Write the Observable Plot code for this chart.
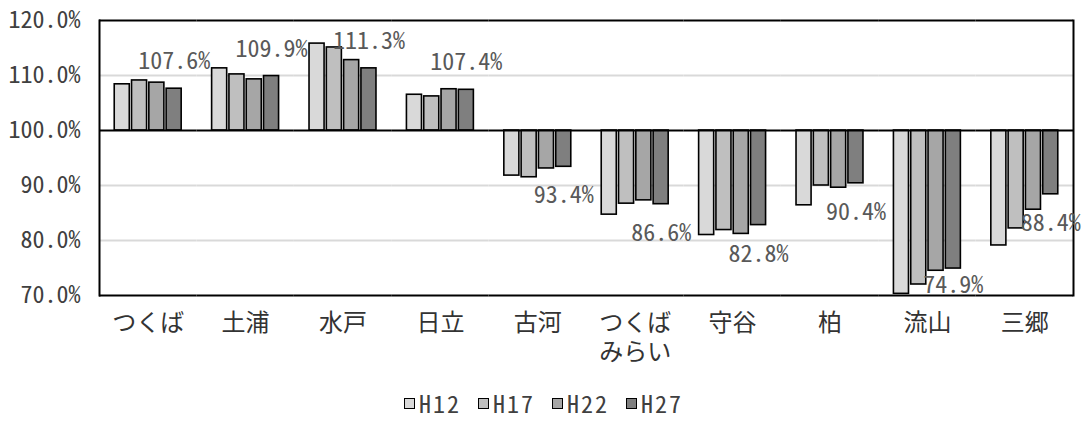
<!DOCTYPE html>
<html>
<head>
<meta charset="utf-8">
<script src="https://cdn.jsdelivr.net/npm/d3@7"></script>
<script src="https://cdn.jsdelivr.net/npm/@observablehq/plot@0.6"></script>
<style>
  body { margin: 0; background: #fff; position: relative; width: 1087px; height: 421px; overflow: hidden; }
  #chart svg { display: block; }
  .legend { position: absolute; left: 0; top: 386px; width: 1087px; height: 34px; line-height: 34px;
    display: flex; justify-content: center; align-items: center; gap: 17px;
    font-family: "Noto Sans Mono CJK JP", "Noto Sans CJK JP", sans-serif; font-size: 24px; letter-spacing: 2px; color: #404040; }
  .legend .item { display: flex; align-items: center; }
  .legend .sw { flex: none; box-sizing: border-box; width: 11px; height: 11px; border: 1.5px solid #000; margin-right: 4px; }
</style>
</head>
<body>
<div id="chart"></div>
<div class="legend" id="legend"></div>
<script>
const categories = ["つくば", "土浦", "水戸", "日立", "古河", "つくば\nみらい", "守谷", "柏", "流山", "三郷"];
const years = ["H12", "H17", "H22", "H27"];
const h12 = [108.4, 111.3, 115.8, 106.5, 91.8, 84.7, 81.0, 86.4, 70.3, 79.1];
const h17 = [109.1, 110.2, 115.1, 106.2, 91.5, 86.7, 81.9, 90.0, 72.0, 82.2];
const h22 = [108.7, 109.3, 112.8, 107.5, 93.1, 87.3, 81.2, 89.6, 74.5, 85.6];
const h27 = [107.6, 109.9, 111.3, 107.4, 93.4, 86.6, 82.8, 90.4, 74.9, 88.4];
const yTicks = [70, 80, 90, 100, 110, 120];
const colors = ["#d9d9d9", "#bfbfbf", "#a6a6a6", "#7f7f7f"];

const series = [h12, h17, h22, h27];
const data = [];
categories.forEach((c, i) => years.forEach((y, j) => data.push({cat: c, year: y, v: series[j][i]})));
const labels = data.filter(d => d.year === "H27");

const font = '"Noto Sans Mono CJK JP", "Noto Sans CJK JP", sans-serif';

const chart = Plot.plot({
  width: 1087,
  height: 386,
  marginTop: 20,
  marginBottom: 91,
  marginLeft: 99,
  marginRight: 14,
  style: {fontFamily: font, fontSize: "24px", background: "#fff"},
  fx: {domain: categories, padding: 0, round: false, label: null},
  x: {domain: years, paddingInner: 0.13, paddingOuter: 0.88, round: false, axis: null},
  y: {domain: [70, 120], label: null},
  color: {domain: years, range: colors},
  marks: [
    Plot.ruleY([80, 90, 110], {stroke: "#d9d9d9", strokeWidth: 2}),
    Plot.ruleY([120], {stroke: "#000", strokeWidth: 2}),
    Plot.ruleY([70], {stroke: "#000", strokeWidth: 2}),
    Plot.frame({anchor: "left", facetAnchor: "left", stroke: "#000", strokeWidth: 2}),
    Plot.frame({anchor: "right", facetAnchor: "right", stroke: "#000", strokeWidth: 2}),
    Plot.barY(data, {fx: "cat", x: "year", y1: 100, y2: "v", fill: "year", stroke: "#000", strokeWidth: 1.6}),
    Plot.ruleY([100], {stroke: "#000", strokeWidth: 2}),
    Plot.text(labels.filter(d => d.v >= 100), {fx: "cat", x: "year", y: "v", dy: -27, text: d => d.v.toFixed(1) + "%", fill: "#595959", fontSize: 24}),
    Plot.text(labels.filter(d => d.v < 100), {fx: "cat", x: "year", y: d => Math.max(d.v, 77.1), dy: 29, text: d => d.v.toFixed(1) + "%", fill: "#595959", fontSize: 24}),
    Plot.axisY({ticks: yTicks, tickFormat: d => d.toFixed(1) + "%", tickSize: 0, tickPadding: 19, fill: "#404040", fontSize: 24, label: null}),
    Plot.axisFx({anchor: "bottom", tickSize: 0, tickPadding: 15, fill: "#333", fontSize: 24, lineHeight: 1.2, label: null})
  ]
});
document.getElementById("chart").appendChild(chart);

const legend = document.getElementById("legend");
years.forEach((y, j) => {
  const item = document.createElement("span");
  item.className = "item";
  const sw = document.createElement("span");
  sw.className = "sw";
  sw.style.background = colors[j];
  item.appendChild(sw);
  const t = document.createElement("span");
  t.textContent = y;
  item.appendChild(t);
  legend.appendChild(item);
});
</script>
</body>
</html>
